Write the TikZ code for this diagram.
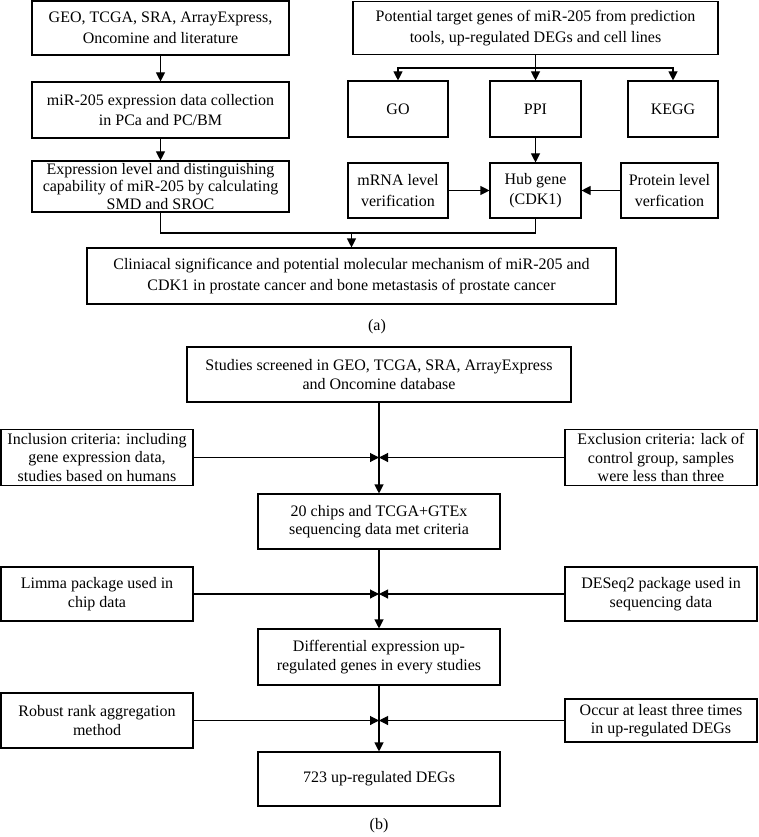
\documentclass[tikz,border=0pt]{standalone}
\usepackage{fontspec}
\setmainfont{Liberation Serif}
\usetikzlibrary{arrows.meta}

\begin{document}
\begin{tikzpicture}[x=1pt,y=-1pt,
  box/.style={draw,line width=1.1pt,align=center,inner sep=0pt,
    font=\fontsize{16}{20.5}\selectfont},
  boxb/.style={box,font=\fontsize{16}{18.5}\selectfont},
  link/.style={line width=1.1pt},
  arr/.style={link,-{Triangle[length=9pt,width=9pt]}}]
  \useasboundingbox (0,0) rectangle (758,837);
  % (a) left column
  \node[box,minimum width=257pt,minimum height=54pt] (geo) at (160.5,28) {GEO, TCGA, SRA, ArrayExpress,\\Oncomine and literature};
  \node[box,minimum width=257pt,minimum height=56pt] (coll) at (160.5,110) {miR-205 expression data collection\\in PCa and PC/BM};
  \node[box,minimum width=257pt,minimum height=51pt,font=\fontsize{16}{17.5}\selectfont] (smd) at (160.5,186.5) {Expression level and distinguishing\\capability of miR-205 by calculating\\SMD and SROC};
  % (a) right column
  \node[box,minimum width=365pt,minimum height=53pt] (pot) at (535.5,28) {Potential target genes of miR-205 from prediction\\tools, up-regulated DEGs and cell lines};
  \node[box,minimum width=100pt,minimum height=56pt] (go) at (398,109) {GO};
  \node[box,minimum width=91pt,minimum height=56pt] (ppi) at (535.5,109) {PPI};
  \node[box,minimum width=90pt,minimum height=56pt] (kegg) at (673,109) {KEGG};
  \node[box,minimum width=100pt,minimum height=55pt] (mrna) at (398,190.5) {mRNA level\\verification};
  \node[box,minimum width=91pt,minimum height=55pt] (hub) at (535.5,190.5) {Hub gene\\(CDK1)};
  \node[box,minimum width=97pt,minimum height=55pt] (prot) at (669.5,190.5) {Protein level\\verfication};
  \node[box,minimum width=529pt,minimum height=56pt] (clin) at (351.5,276) {Cliniacal significance and potential molecular mechanism of miR-205 and\\CDK1 in prostate cancer and bone metastasis of prostate cancer};
  \node[font=\fontsize{16}{18}\selectfont] (capa) at (377,327) {(a)};
  \coordinate (split) at (535.5,68);
  \coordinate (mergea) at (351.5,233);
  \draw[arr] (geo) -- (coll); % geo -- coll
  \draw[arr] (coll) -- (smd); % coll -- smd
  \draw[link] (pot) -- (split);
  \draw[arr] (split) -| (go); % pot -- go
  \draw[arr] (split) -- (ppi); % pot -- ppi
  \draw[arr] (split) -| (kegg); % pot -- kegg
  \draw[arr] (ppi) -- (hub); % ppi -- hub
  \draw[arr] (mrna) -- (hub); % mrna -- hub
  \draw[arr] (prot) -- (hub); % prot -- hub
  \draw[link] (smd) |- (mergea);
  \draw[link] (hub) |- (mergea);
  \draw[arr] (mergea) -- (clin); % merge -- clin
  % (b) centre column
  \node[boxb,minimum width=384pt,minimum height=55pt] (studies) at (379,374.5) {Studies screened in GEO, TCGA, SRA, ArrayExpress\\and Oncomine database};
  \node[boxb,minimum width=242pt,minimum height=55pt] (chips) at (379,521.5) {20 chips and TCGA+GTEx\\sequencing data met criteria};
  \node[boxb,minimum width=242pt,minimum height=56pt] (diff) at (379,657) {Differential expression up-\\regulated genes in every studies};
  \node[boxb,minimum width=242pt,minimum height=54pt] (degs) at (379,779) {723 up-regulated DEGs};
  % (b) sides
  \node[boxb,minimum width=192pt,minimum height=56pt] (incl) at (97,457.5) {Inclusion criteria: including\\gene expression data,\\studies based on humans};
  \node[boxb,minimum width=192pt,minimum height=56pt] (excl) at (661,457.5) {Exclusion criteria: lack of\\control group, samples\\were less than three};
  \node[boxb,minimum width=192pt,minimum height=54pt] (limma) at (97,594) {Limma package used in\\chip data};
  \node[boxb,minimum width=192pt,minimum height=54pt] (deseq) at (661,594) {DESeq2 package used in\\sequencing data};
  \node[boxb,minimum width=192pt,minimum height=55pt] (rra) at (97,720.5) {Robust rank aggregation\\method};
  \node[boxb,minimum width=192pt,minimum height=43pt] (occur) at (661,720.5) {Occur at least three times\\in up-regulated DEGs};
  \node[font=\fontsize{16}{18}\selectfont] (capb) at (379,826) {(b)};
  \coordinate (m1) at (379,457.5);
  \coordinate (m2) at (379,594);
  \coordinate (m3) at (379,720.5);
  \draw[arr] (studies) -- (chips); % studies -- chips
  \draw[arr] (incl) -- (m1); % incl -- m1
  \draw[arr] (excl) -- (m1); % excl -- m1
  \draw[arr] (chips) -- (diff); % chips -- diff
  \draw[arr] (limma) -- (m2); % limma -- m2
  \draw[arr] (deseq) -- (m2); % deseq -- m2
  \draw[arr] (diff) -- (degs); % diff -- degs
  \draw[arr] (rra) -- (m3); % rra -- m3
  \draw[arr] (occur) -- (m3); % occur -- m3
\end{tikzpicture}
\end{document}
